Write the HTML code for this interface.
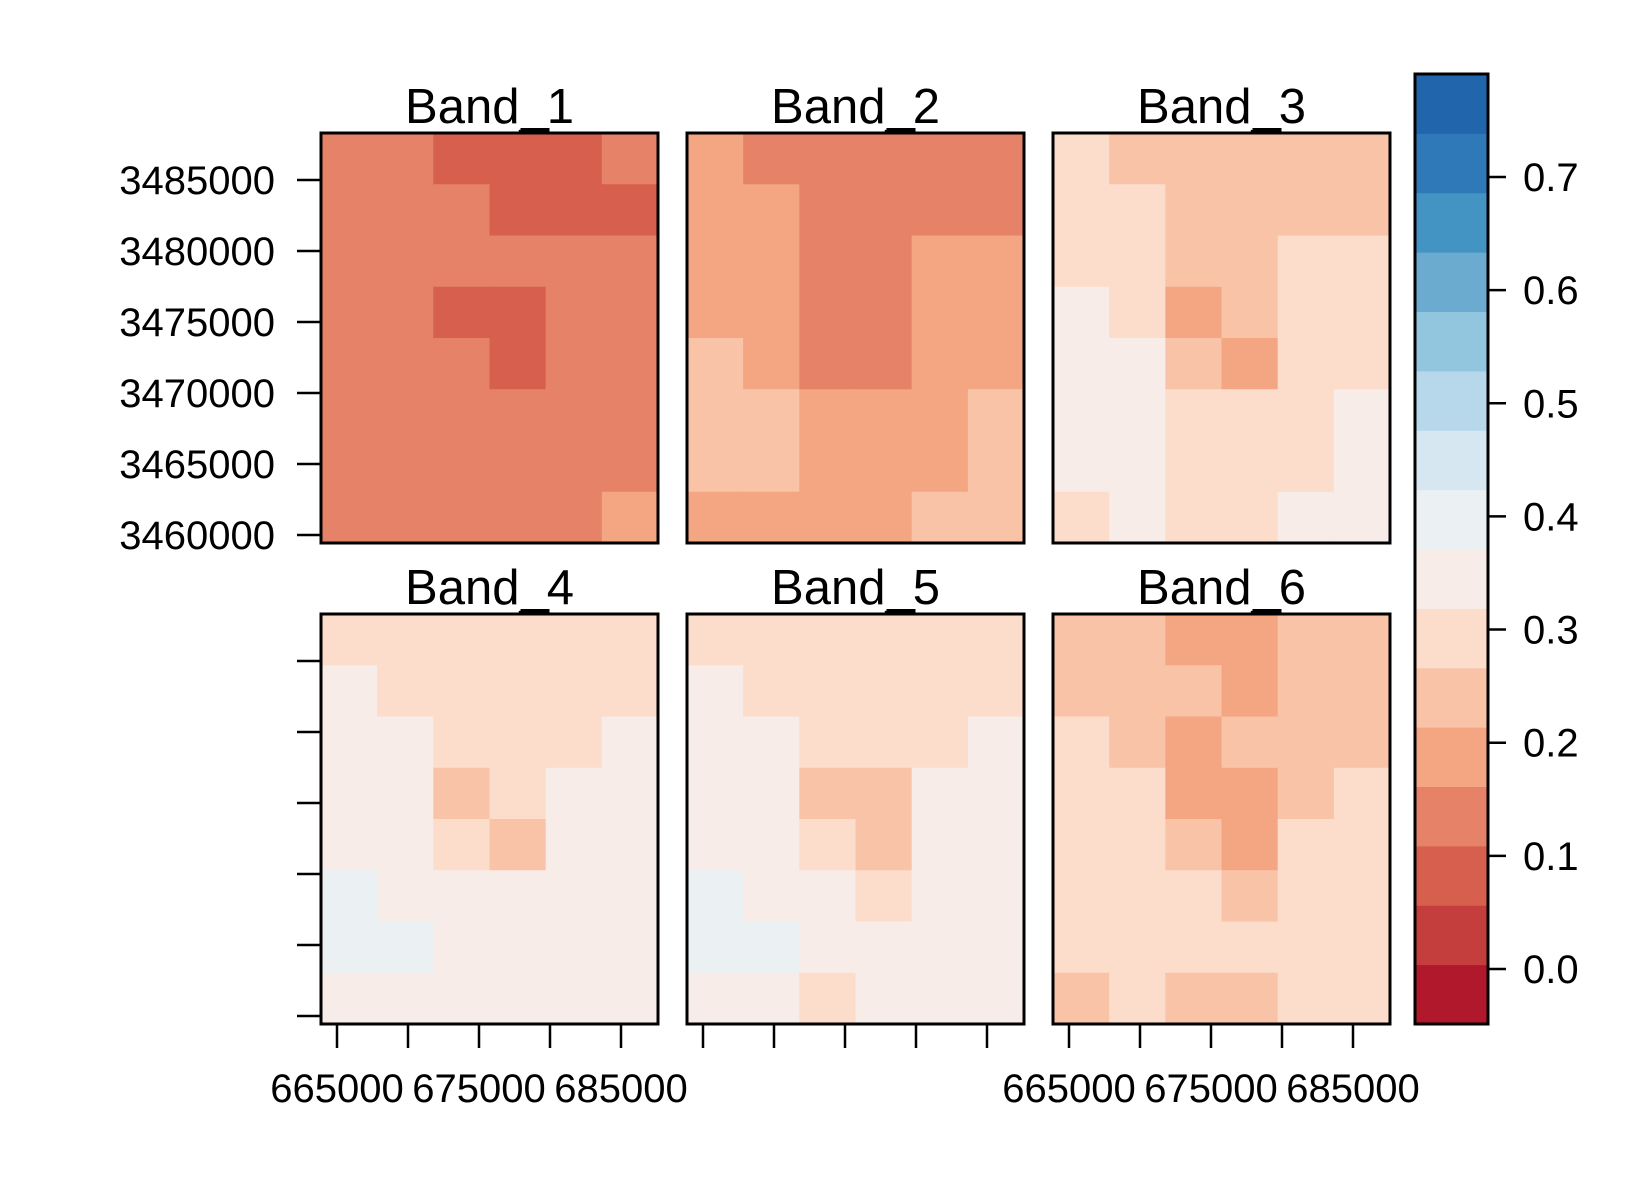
<!DOCTYPE html>
<html><head><meta charset="utf-8">
<style>
html,body{margin:0;padding:0;background:#fff;}
svg{display:block;font-family:"Liberation Sans",Arial,sans-serif;}
</style></head>
<body>
<svg id="chart" width="1650" height="1200" viewBox="0 0 1650 1200"></svg>
<script>
// ---- data ----
const bandNames = ["Band_1","Band_2","Band_3","Band_4","Band_5","Band_6"];
const band1 = [
 [.12,.11,.10,.09,.10,.11],
 [.12,.11,.11,.10,.10,.10],
 [.14,.13,.11,.11,.12,.11],
 [.15,.14,.09,.10,.13,.14],
 [.16,.15,.11,.08,.14,.15],
 [.15,.16,.15,.14,.15,.16],
 [.15,.16,.15,.15,.15,.16],
 [.14,.15,.14,.15,.16,.17]];
const band2 = [
 [.17,.16,.15,.14,.15,.16],
 [.18,.17,.16,.15,.16,.16],
 [.20,.19,.16,.16,.18,.17],
 [.21,.20,.13,.15,.19,.20],
 [.23,.21,.16,.13,.20,.21],
 [.22,.23,.21,.20,.21,.22],
 [.22,.23,.21,.21,.21,.23],
 [.20,.21,.20,.21,.22,.24]];
const band3 = [
 [.27,.26,.25,.24,.25,.26],
 [.28,.27,.26,.25,.26,.26],
 [.30,.29,.25,.26,.28,.28],
 [.32,.31,.20,.23,.29,.30],
 [.34,.33,.25,.20,.30,.31],
 [.35,.34,.30,.29,.30,.33],
 [.35,.34,.30,.30,.31,.34],
 [.31,.32,.30,.30,.32,.34]];
const band4 = [
 [.31,.30,.29,.28,.30,.31],
 [.32,.31,.30,.29,.30,.31],
 [.33,.33,.28,.29,.31,.32],
 [.35,.34,.24,.27,.32,.33],
 [.37,.36,.28,.25,.33,.34],
 [.38,.37,.33,.32,.33,.35],
 [.38,.38,.33,.33,.34,.36],
 [.33,.36,.32,.33,.35,.37]];
const band5 = [
 [.31,.30,.29,.27,.30,.31],
 [.32,.31,.29,.28,.30,.31],
 [.33,.32,.27,.28,.31,.32],
 [.35,.34,.22,.25,.32,.33],
 [.37,.36,.27,.23,.33,.34],
 [.38,.37,.33,.31,.33,.35],
 [.38,.38,.33,.33,.34,.36],
 [.32,.35,.31,.32,.35,.37]];
const band6 = [
 [.24,.23,.21,.20,.22,.23],
 [.25,.24,.22,.21,.22,.23],
 [.27,.26,.21,.22,.24,.25],
 [.28,.27,.17,.20,.26,.27],
 [.29,.28,.22,.17,.27,.28],
 [.29,.29,.27,.26,.27,.29],
 [.29,.30,.27,.27,.27,.30],
 [.24,.27,.24,.25,.28,.30]];
const bands = [band1,band2,band3,band4,band5,band6];
const yTicks = [3460000,3465000,3470000,3475000,3480000,3485000];
const xTicks = [665000,670000,675000,680000,685000];
const xTickLabels = ["665000","","675000","","685000"];
const cbTicks = [0.0,0.1,0.2,0.3,0.4,0.5,0.6,0.7];
const cbColors = ["#B2182B","#C43E3D","#D6604D","#E58267","#F4A582","#F9C3A8","#FCDCCB","#F7ECE7","#EBF0F3","#D6E7F1","#B7D8EA","#92C5DE","#6CABD0","#4393C3","#3079B8","#2166AC"];

// ---- layout ----
const NS="http://www.w3.org/2000/svg";
const svg=document.getElementById('chart');
function mk(tag,attrs,parent){const e=document.createElementNS(NS,tag);for(const k in attrs)e.setAttribute(k,attrs[k]);(parent||svg).appendChild(e);return e;}
const colX=[321,687,1053], rowY=[133,614], PW=337, PH=410;
const cbMin=-0.0486, cbMax=0.791, cbX=1415, cbW=73, cbTop=74, cbBot=1024;
function xScale(v,left){return left+16+(v-665000)/5000*71;}
function yScale(v,top){return top+47+(3485000-v)/5000*71;}
function cbY(v){return cbBot-(v-cbMin)/(cbMax-cbMin)*(cbBot-cbTop);}
function colorOf(v){let i=Math.floor((v-cbMin)/(cbMax-cbMin)*cbColors.length);i=Math.max(0,Math.min(cbColors.length-1,i));return cbColors[i];}

bands.forEach((grid,b)=>{
  const left=colX[b%3], top=rowY[Math.floor(b/3)];
  const g=mk('g',{});
  
  
  const rows=grid.length, cols=grid[0].length;
  grid.forEach((row,r)=>row.forEach((v,c)=>{
    const cell=mk('rect',{x:left+c*PW/cols,y:top+r*PH/rows,width:PW/cols+0.6,height:PH/rows+0.6,fill:colorOf(v)},g);
    
    
  }));
  const fr=mk('rect',{x:left,y:top,width:PW,height:PH,fill:'none',stroke:'#000','stroke-width':3},g);
  
  
  const sm=mk('rect',{x:left+PW/2+31,y:top-5,width:29,height:6,fill:'#000'},g);
  
  
  const t=mk('text',{x:left+PW/2,y:top-10,'text-anchor':'middle','font-size':49},g);
  t.textContent=bandNames[b];
  
  
  if(b%3===0){
    yTicks.forEach(v=>{
      const y=yScale(v,top);
      const tk=mk('line',{x1:left-24,x2:left,y1:y,y2:y,stroke:'#000','stroke-width':2.5},g);
      
      
      if(b===0){
        const l=mk('text',{x:left-46,y:y+14,'text-anchor':'end','font-size':40},g);
        l.textContent=String(v);
        
        
      }
    });
  }
  if(b>=3){
    xTicks.forEach((v,i)=>{
      const x=xScale(v,left);
      const tk=mk('line',{x1:x,x2:x,y1:top+PH,y2:top+PH+24,stroke:'#000','stroke-width':2.5},g);
      
      
      if(b!==4 && xTickLabels[i]){
        const l=mk('text',{x:x,y:1102,'text-anchor':'middle','font-size':40},g);
        l.textContent=xTickLabels[i];
        
        
      }
    });
  }
});

// colorbar
const cb=mk('g',{});


const binH=(cbBot-cbTop)/cbColors.length;
cbColors.forEach((c,i)=>{
  const r=mk('rect',{x:cbX,y:cbBot-(i+1)*binH,width:cbW,height:binH+0.5,fill:c},cb);
  
  
});
const cf=mk('rect',{x:cbX,y:cbTop,width:cbW,height:cbBot-cbTop,fill:'none',stroke:'#000','stroke-width':3},cb);


cbTicks.forEach(v=>{
  const y=cbY(v);
  const tk=mk('line',{x1:cbX+cbW,x2:cbX+cbW+18,y1:y,y2:y,stroke:'#000','stroke-width':2.5},cb);
  
  
  const l=mk('text',{x:cbX+cbW+35,y:y+14,'font-size':40},cb);
  l.textContent=v.toFixed(1);
  
  
});
</script>
</body></html>
